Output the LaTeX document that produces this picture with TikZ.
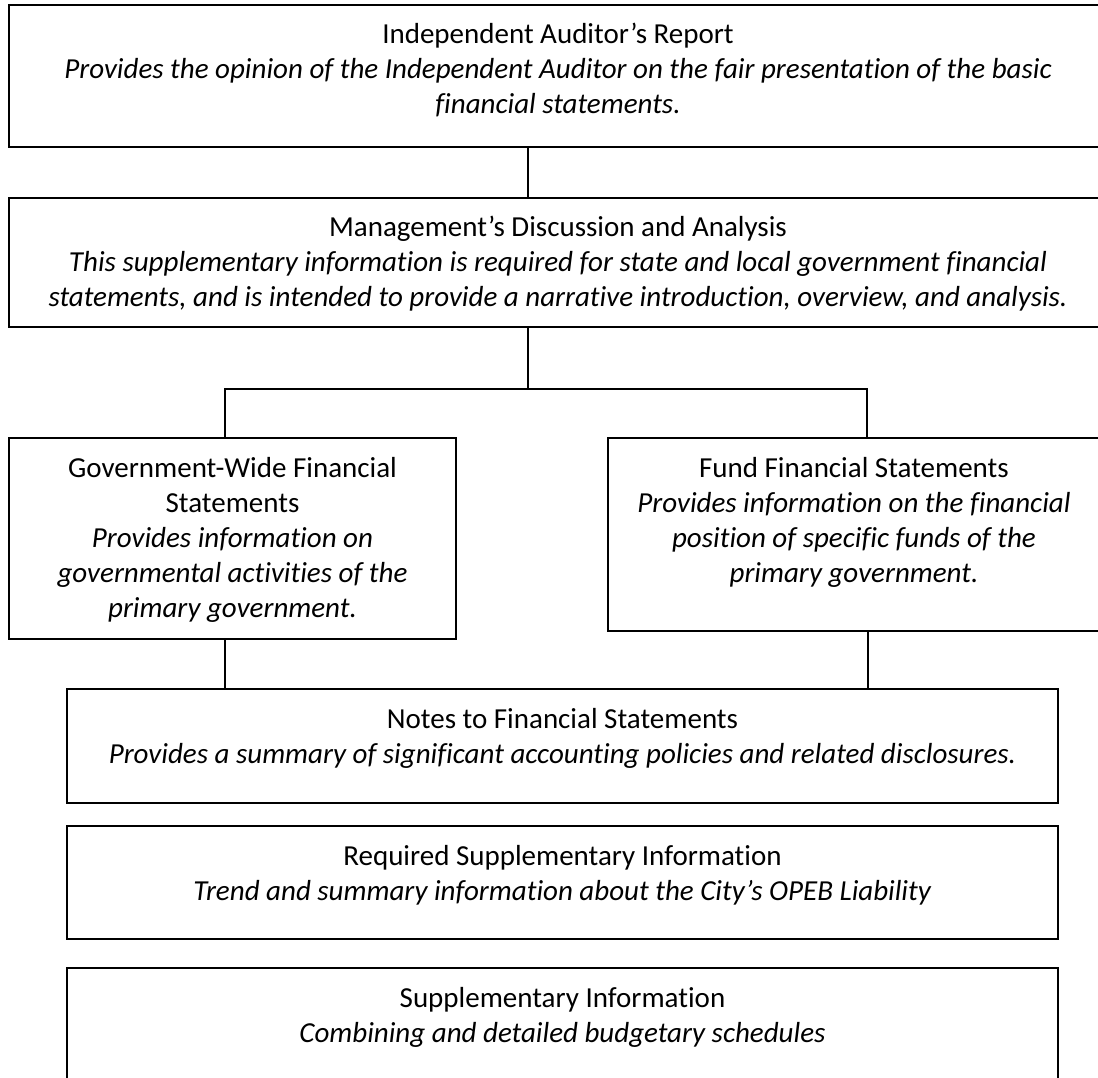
\documentclass[tikz,border=0pt]{standalone}
\usepackage{fontspec}
\setmainfont{Carlito}[Ligatures=NoCommon]
\newcommand{\boxtext}[1]{\parbox[t]{1100pt}{\centering\fontsize{29}{35}\selectfont #1}}
\begin{document}
\begin{tikzpicture}[x=1pt,y=-1pt,
  box/.style={draw, line width=2pt, inner sep=0pt, outer sep=0pt, anchor=north west},
  txt/.style={anchor=base, inner sep=0pt},
  conn/.style={line width=2.6pt},
  connb/.style={line width=2pt}]
\clip (0,0) rectangle (1098,1078);
\fill[white] (0,0) rectangle (1098,1078);
% boxes
\node[box, minimum width=1098pt, minimum height=142pt] (b1) at (9,5) {};
\node[box, minimum width=1098pt, minimum height=129pt] (b2) at (9,198) {};
\node[box, minimum width=447pt, minimum height=201pt] (gov) at (9,438) {};
\node[box, minimum width=492pt, minimum height=193pt] (fund) at (608,438) {};
\node[box, minimum width=991pt, minimum height=114pt] (notes) at (67,689) {};
\node[box, minimum width=991pt, minimum height=113pt] (rsi) at (67,826) {};
\node[box, minimum width=991pt, minimum height=140pt] (si) at (67,968) {};
% texts
\node[txt] (t1) at ([xshift=549pt,yshift=-39pt]b1.north west) {\boxtext{Independent Auditor’s Report\\ \textit{Provides the opinion of the Independent Auditor on the fair presentation of the basic\\ financial statements.}}};
\node[txt] (t2) at ([xshift=549pt,yshift=-39pt]b2.north west) {\boxtext{Management’s Discussion and Analysis\\ \textit{This supplementary information is required for state and local government financial\\ statements, and is intended to provide a narrative introduction, overview, and analysis.}}};
\node[txt] (tgov) at ([xshift=223.5pt,yshift=-39pt]gov.north west) {\boxtext{Government-Wide Financial\\ Statements\\ \textit{Provides information on\\ governmental activities of the\\ primary government.}}};
\node[txt] (tfund) at ([xshift=246pt,yshift=-39pt]fund.north west) {\boxtext{Fund Financial Statements\\ \textit{Provides information on the financial\\ position of specific funds of the\\ primary government.}}};
\node[txt] (tnotes) at ([xshift=495.5pt,yshift=-39pt]notes.north west) {\boxtext{Notes to Financial Statements\\ \textit{Provides a summary of significant accounting policies and related disclosures.}}};
\node[txt] (trsi) at ([xshift=495.5pt,yshift=-39pt]rsi.north west) {\boxtext{Required Supplementary Information\\ \textit{Trend and summary information about the City’s OPEB Liability}}};
\node[txt] (tsi) at ([xshift=495.5pt,yshift=-39pt]si.north west) {\boxtext{Supplementary Information\\ \textit{Combining and detailed budgetary schedules}}};
% connectors
\coordinate (j) at (528,389);
\draw[conn] ([xshift=519pt]b1.south west) -- ([xshift=519pt]b2.north west);
\draw[conn] ([xshift=519pt]b2.south west) -- (j);
\draw[conn] ([xshift=216pt]gov.north west) |- (j) -| ([xshift=259pt]fund.north west);
\draw[connb] ([xshift=216pt]gov.south west) -- ([xshift=158pt]notes.north west);
\draw[connb] ([xshift=260pt]fund.south west) -- ([xshift=801pt]notes.north west);
\end{tikzpicture}
\end{document}
